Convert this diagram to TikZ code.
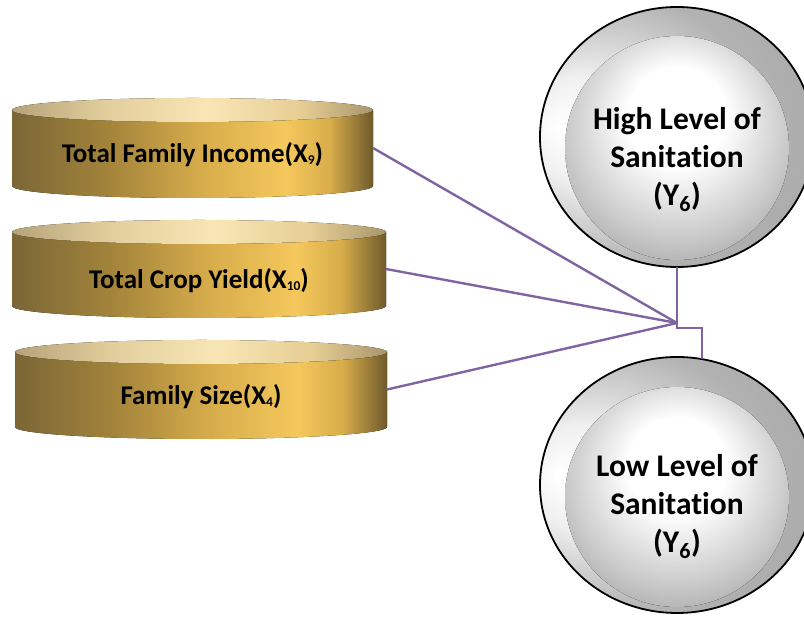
\documentclass[tikz,border=0pt]{standalone}
\usepackage{fontspec}
\setmainfont{Carlito}[Ligatures=NoCommon]
\usetikzlibrary{shapes.geometric,calc}

% palette
\definecolor{linkpurple}{HTML}{8064A2}
\definecolor{goldA}{HTML}{7A6636}
\definecolor{goldB}{HTML}{A2833A}
\definecolor{goldC}{HTML}{D9AE4C}
\definecolor{goldD}{HTML}{F4C85C}
\definecolor{goldE}{HTML}{D8AD4A}
\definecolor{goldF}{HTML}{6E5A2C}
\definecolor{capA}{HTML}{B5A37A}
\definecolor{capB}{HTML}{E2CE9C}
\definecolor{capC}{HTML}{F8E6B6}
\definecolor{capD}{HTML}{E6CE94}
\definecolor{capE}{HTML}{A8956C}

% side of a drum: dark edges, bright gold right of centre
\pgfdeclarehorizontalshading{goldside}{100bp}{color(0bp)=(goldA); color(25bp)=(goldA);
  color(38bp)=(goldB); color(52bp)=(goldC); color(63bp)=(goldD); color(69bp)=(goldE);
  color(75bp)=(goldF); color(100bp)=(goldF)}
% top face of a drum
\pgfdeclarehorizontalshading{goldcap}{100bp}{color(0bp)=(capA); color(25bp)=(capA);
  color(38bp)=(capB); color(52bp)=(capC); color(65bp)=(capD); color(75bp)=(capE);
  color(100bp)=(capE)}
% rim of a badge: bright on the left, grey elsewhere
\pgfdeclareradialshading{rimshade}{\pgfpoint{-22bp}{2bp}}{color(0bp)=(white);
  color(10bp)=(black!6); color(26bp)=(black!30); color(40bp)=(black!36); color(50bp)=(black!48)}
% face of a badge: white highlight, grey border
\pgfdeclareradialshading{faceshade}{\pgfpoint{0bp}{9bp}}{color(0bp)=(white);
  color(11bp)=(white); color(24bp)=(black!20); color(31bp)=(black!32); color(50bp)=(black!34)}

\newcommand{\lowsub}[1]{\raisebox{-1.5pt}{\fontsize{13.5}{13.5}\selectfont #1}}

% drum: centre x, x radius, top y, bottom y, y radius
\newcommand{\drum}[5]{%
  \fill[shading=goldside] ({#1-#2},#3) -- ({#1-#2},#4)
    arc[start angle=180,end angle=360,x radius=#2,y radius=#5] -- ({#1+#2},#3) -- cycle;
  \fill[shading=goldcap] (#1,#3) ellipse[x radius=#2,y radius=#5];
}

\tikzset{
  drumbody/.style={rectangle,inner sep=0pt,outer sep=0pt},
  drumlabel/.style={font=\bfseries\fontsize{27}{31}\selectfont,text=black,inner sep=0pt},
  badge/.style={ellipse,draw=black,line width=1.8pt,inner sep=0pt,outer sep=0pt,
    minimum width=274pt,shading=rimshade},
  badgelabel/.style={font=\bfseries\fontsize{31.5}{38}\selectfont,align=center,text=black,inner sep=0pt},
  link/.style={draw=linkpurple,line width=2.4pt,line join=miter}
}

\begin{document}
\begin{tikzpicture}[x=1pt,y=1pt]
\useasboundingbox (0,0) rectangle (804,618);

% drums
\drum{192.5}{180.5}{508}{432}{12}
\drum{199}{187}{386}{312}{12}
\drum{201}{186}{266}{191}{12}

\node[drumbody,minimum width=361pt,minimum height=76pt] (income) at (192.5,470) {};
\node[drumbody,minimum width=374pt,minimum height=74pt] (crop) at (199,349) {};
\node[drumbody,minimum width=372pt,minimum height=75pt] (size) at (201,228.5) {};

\node[drumlabel] (incomeLabel) at (192.5,463) {Total Family Income(X\lowsub{9})};
\node[drumlabel] (cropLabel) at (199,337) {Total Crop Yield(X\lowsub{10})};
\node[drumlabel] (sizeLabel) at (201,221) {Family Size(X\lowsub{4})};

% badges
\node[badge,minimum height=260pt] (high) at (677,481) {};
\fill[shading=faceshade] (677,470) ellipse[x radius=112,y radius=112];
\node[badge,minimum height=256pt] (low) at (677,133) {};
\fill[shading=faceshade] (677,121) ellipse[x radius=112,y radius=110];

\node[badgelabel] (highLabel) at (677,458.5) {High Level of\\Sanitation\\(Y\textsubscript{6})};
\node[badgelabel] (lowLabel) at (677,111.5) {Low Level of\\Sanitation\\(Y\textsubscript{6})};

% connectors
\coordinate (hub) at (677,295);
\draw[link] (income.east) -- (hub);
\draw[link] (crop.east) -- (hub);
\draw[link] (size.east) -- (hub);
\draw[link] (high.south) -- (hub) -- ++(0,-5) -| ([xshift=25pt,yshift=-2pt]low.north);
\end{tikzpicture}
\end{document}
